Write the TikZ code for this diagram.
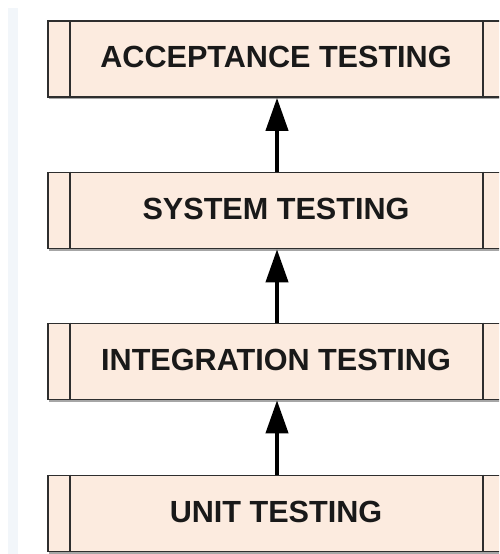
\documentclass[tikz,border=0pt]{standalone}
\usepackage{fontspec}
\setmainfont{Liberation Sans}
\usetikzlibrary{arrows.meta}
\definecolor{boxfill}{HTML}{FCEBDF}
\definecolor{boxline}{HTML}{2E2E2E}
\definecolor{strip}{HTML}{F2F6FA}
\tikzset{
  stage/.style={draw=boxline, line width=1.6pt, fill=boxfill, minimum width=457pt, minimum height=76pt, inner sep=0pt},
  stagetext/.style={font=\bfseries\fontsize{30.6}{33}\selectfont, text=black!90, inner sep=0pt},
  flow/.style={line width=4pt, -{Triangle[length=33pt, width=22pt]}, black},
}
\begin{document}
\begin{tikzpicture}[x=1pt,y=-1pt]
\useasboundingbox (0,0) rectangle (499,554);
\clip (0,0) rectangle (499,554);
\fill[strip] (8,8) rectangle (18,554);
\foreach \nm/\txt/\yy in {acc/ACCEPTANCE TESTING/59, sys/SYSTEM TESTING/210.5, integ/INTEGRATION TESTING/361.5, unit/UNIT TESTING/513.5}{
  \fill[black!35] (49,\yy+38) rectangle (505,\yy+40);
  \node[stage] (\nm) at (276.5,\yy) {};
  \node[stagetext] (\nm-t) at (276,\yy-2) {\txt};
  \draw[boxline, line width=1.6pt] ([xshift=23pt]\nm.north west) -- ([xshift=23pt]\nm.south west);
  \draw[boxline, line width=1.6pt] ([xshift=-23pt]\nm.north east) -- ([xshift=-23pt]\nm.south east);
}
\draw[flow] (unit.north -| 277,0) -- (integ.south -| 277,0);
\draw[flow] (integ.north -| 277,0) -- (sys.south -| 277,0);
\draw[flow] (sys.north -| 277,0) -- (acc.south -| 277,0);
\end{tikzpicture}
\end{document}
